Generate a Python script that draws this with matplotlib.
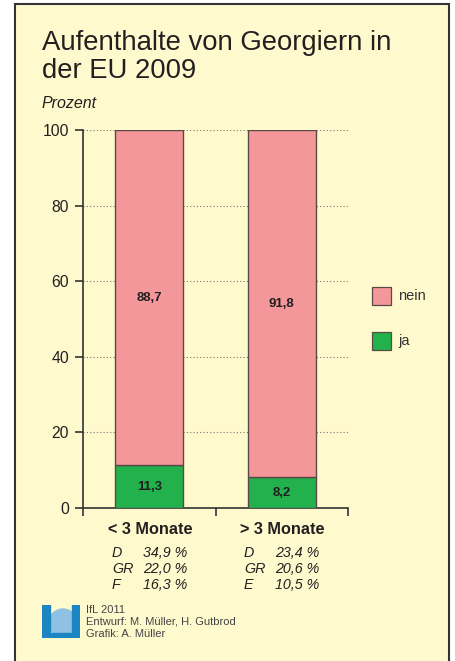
import numpy as np
import matplotlib
matplotlib.use("Agg")
import matplotlib.pyplot as plt
from matplotlib.patches import Rectangle, Circle

plt.rcParams['font.family'] = ['Liberation Sans', 'DejaVu Sans']

categories = ['< 3 Monate', '> 3 Monate']
ja = [11.3, 8.2]
nein = [88.7, 91.8]
countries = [['D', 'GR', 'F'], ['D', 'GR', 'E']]
shares = [['34,9 %', '22,0 %', '16,3 %'], ['23,4 %', '20,6 %', '10,5 %']]
yticks = [0, 20, 40, 60, 80, 100]

W, H = 456, 661
bg = '#fffacd'
pink = '#f4979a'
green = '#22b14c'
edge = '#5a4a45'
txt = '#231f20'

fig = plt.figure(figsize=(W / 100, H / 100), dpi=100)
fig.patch.set_facecolor('white')

def fx(px):
    return px / W

def fy(py):
    return 1 - py / H

# frame
fig.patches.append(Rectangle((fx(15), fy(668)), fx(449) - fx(15), fy(4) - fy(668),
                             transform=fig.transFigure, facecolor=bg,
                             edgecolor='#333333', lw=1.5, zorder=-5))

# title, one line at a time
fig.text(fx(42), fy(50), 'Aufenthalte von Georgiern in', fontsize=19.8,
         color=txt, ha='left', va='baseline')
fig.text(fx(42), fy(78), 'der EU 2009', fontsize=19.8,
         color=txt, ha='left', va='baseline')
fig.text(fx(42), fy(104), 'Prozent', fontsize=11.5, style='italic', color=txt,
         ha='left', va='center')

ax = fig.add_axes([fx(83), fy(508), fx(348) - fx(83), fy(130) - fy(508)])
ax.set_facecolor('none')
x = np.arange(len(categories))
ax.bar(x, ja, width=0.51, color=green, edgecolor=edge, lw=1.0, zorder=3)
ax.bar(x, nein, bottom=ja, width=0.51, color=pink, edgecolor=edge, lw=1.0, zorder=3)
for i in range(len(categories)):
    ax.text(x[i], ja[i] / 2, f'{ja[i]:.1f}'.replace('.', ','), ha='center', va='center',
            fontsize=9.5, fontweight='bold', color=txt, zorder=4)
    ax.text(x[i], ja[i] + nein[i] / 2, f'{nein[i]:.1f}'.replace('.', ','), ha='center',
            va='center', fontsize=9.5, fontweight='bold', color=txt, zorder=4)

ax.set_xlim(-0.5, 1.5)
ax.set_ylim(0, 100)
ax.set_yticks(yticks)
ax.set_yticklabels([str(t) for t in yticks], fontsize=11.3, color=txt)
ax.set_xticks([-0.5, 0.5, 1.5])
ax.set_xticklabels([])
ax.tick_params(axis='both', length=6, width=1.2, color='#333333', direction='out')
ax.tick_params(axis='y', pad=4)
for t in yticks[1:]:
    ax.axhline(t, color='#777777', lw=0.8, ls=(0, (1, 2)), zorder=1)
for s in ['top', 'right']:
    ax.spines[s].set_visible(False)
for s in ['left', 'bottom']:
    ax.spines[s].set_color('#333333')
    ax.spines[s].set_linewidth(1.2)

# category labels and top countries
for i, cx in enumerate([150, 282]):
    fig.text(fx(cx), fy(530), categories[i], fontsize=11.7, fontweight='bold', color=txt,
             ha='center', va='center')
    for j in range(3):
        yy = 553 + j * 16
        fig.text(fx(cx - 38), fy(yy), countries[i][j], fontsize=10.3, style='italic',
                 color=txt, ha='left', va='center')
        fig.text(fx(cx + 37), fy(yy), shares[i][j], fontsize=10.3, style='italic',
                 color=txt, ha='right', va='center')

# legend
for lab, col, ly in [('nein', pink, 296), ('ja', green, 341)]:
    fig.patches.append(Rectangle((fx(372), fy(ly + 9)), fx(391) - fx(372), fy(ly - 9) - fy(ly + 9),
                                 transform=fig.transFigure, facecolor=col,
                                 edgecolor=edge, lw=0.9))
    fig.text(fx(398), fy(ly), lab, fontsize=10.5, color='#333333', ha='left', va='center')

# logo
lax = fig.add_axes([fx(42), fy(638), fx(80) - fx(42), fy(605) - fy(638)])
lax.set_xlim(0, 38)
lax.set_ylim(0, 33)
lax.axis('off')
lax.add_patch(Circle((21, 15), 14, color='#8fc1e3', clip_on=False))
lax.add_patch(Rectangle((0, 0), 8, 33, color='#1b85c4'))
lax.add_patch(Rectangle((30, 0), 8, 33, color='#1b85c4'))
lax.add_patch(Rectangle((8, 0), 22, 5, color='#1b85c4'))

for k, line in enumerate(['IfL 2011', 'Entwurf: M. Müller, H. Gutbrod', 'Grafik: A. Müller']):
    fig.text(fx(86), fy(610 + k * 12), line, fontsize=8.0, color='#444444',
             ha='left', va='center')

fig.savefig('out.png', dpi=100, facecolor=fig.get_facecolor())
